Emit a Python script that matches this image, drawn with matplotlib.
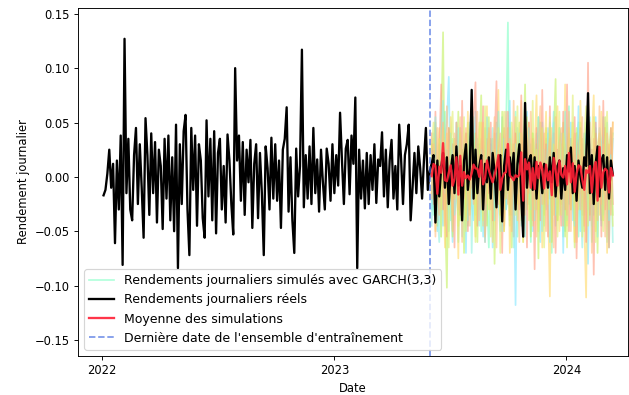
import matplotlib
matplotlib.use("Agg")
import matplotlib.pyplot as plt
import matplotlib.dates as mdates
import numpy as np
import pandas as pd

# rendements réels (un point tous les 3 jours)
rendements_train = [
    -0.017, -0.012, 0.003, 0.025, -0.010, 0.012, -0.061, 0.015, -0.030, 0.038,
    -0.081, 0.127, -0.015, 0.035, -0.030, -0.040, 0.020, 0.045, -0.025, 0.030,
    -0.010, -0.056, 0.054, 0.020, -0.035, 0.040, -0.015, 0.032, -0.042, 0.025,
    0.010, -0.048, 0.035, -0.020, 0.038, -0.040, 0.018, -0.050, 0.048, -0.084,
    0.030, -0.025, 0.042, 0.057, -0.030, -0.072, 0.045, -0.012, 0.038, -0.045,
    0.030, 0.015, -0.038, -0.056, 0.052, -0.018, 0.035, -0.040, 0.042, -0.052,
    0.022, 0.035, -0.030, 0.010, -0.042, 0.039, 0.015, -0.025, -0.053, 0.100,
    0.015, 0.038, -0.022, 0.032, -0.035, 0.025, -0.005, 0.034, -0.047, 0.012,
    0.030, -0.038, 0.022, -0.015, -0.072, 0.028, 0.008, -0.030, 0.036, -0.020,
    0.030, -0.022, 0.015, -0.047, 0.025, 0.035, 0.064, -0.032, 0.018, -0.040,
    -0.070, 0.026, -0.018, 0.010, 0.117, -0.028, 0.020, -0.020, 0.028, -0.025,
    0.045, -0.015, 0.016, -0.032, 0.025, -0.005, -0.030, 0.026, 0.012, -0.022,
    0.030, -0.015, 0.020, -0.008, 0.059, 0.015, -0.025, 0.026, 0.034, -0.016,
    0.038, 0.012, 0.073, -0.084, 0.025, -0.020, 0.015, -0.029, 0.022, -0.025,
    0.020, -0.012, 0.030, -0.024, 0.016, 0.010, 0.041, -0.018, 0.025, -0.028,
    0.015, 0.034, -0.020, 0.010, -0.030, 0.048, 0.016, -0.025, 0.020, 0.030,
    0.048, -0.040, -0.010, 0.022, -0.015, 0.028, 0.008, -0.020, 0.016, 0.045,
    -0.012, 0.005,
]
rendements_test = [
    0.012, 0.020, -0.042, 0.015, -0.018, 0.008, 0.022, -0.010, 0.018, -0.025,
    0.005, 0.020, -0.015, 0.028, -0.008, 0.010, -0.040, 0.015, 0.030, -0.012,
    0.008, 0.080, -0.020, 0.025, -0.015, 0.010, 0.020, -0.030, 0.012, -0.005,
    0.018, -0.020, 0.022, 0.005, -0.028, 0.015, 0.020, -0.041, 0.010, 0.025,
    -0.012, 0.018, 0.000, 0.022, -0.030, 0.012, 0.030, -0.018, -0.055, 0.068,
    -0.010, 0.015, 0.020, -0.012, 0.018, -0.020, 0.010, 0.005, -0.015, 0.012,
    0.008, -0.010, 0.018, -0.005, 0.022, -0.018, 0.010, 0.015, -0.020, 0.008,
    -0.012, 0.020, 0.005, 0.027, -0.015, 0.010, -0.022, 0.015, 0.000, -0.010,
    0.018, 0.010, 0.077, -0.015, 0.020, -0.025, 0.012, 0.028, -0.018, 0.015,
    0.020, -0.012, 0.018, -0.020, 0.015, 0.002,
]

# trajectoires simulées GARCH(3,3) sur la période de test
sim_0 = [
    0.020, -0.035, 0.045, -0.010, 0.030, -0.055, 0.015, 0.060, -0.025, 0.010,
    -0.040, 0.035, -0.015, 0.050, -0.060, 0.020, 0.005, -0.030, 0.040, -0.045,
    0.025, -0.010, 0.055, -0.035, 0.015, 0.030, -0.050, 0.010, 0.045, -0.020,
    -0.065, 0.035, 0.010, -0.030, 0.050, -0.015, 0.025, -0.045, 0.020, 0.040,
    0.142, -0.040, 0.015, -0.025, 0.060, -0.055, 0.030, 0.005, -0.035, 0.045,
    -0.020, 0.025, -0.060, 0.040, 0.010, -0.030, 0.055, -0.015, 0.020, -0.045,
    0.035, -0.010, 0.050, -0.070, 0.025, 0.015, -0.040, 0.045, -0.020, 0.030,
    -0.050, 0.010, 0.065, -0.030, 0.020, -0.015, 0.040, -0.055, 0.025, 0.005,
    -0.035, 0.050, -0.020, 0.030, -0.060, 0.015, 0.045, -0.025, 0.010, -0.040,
    0.055, -0.015, 0.030, -0.065, 0.020, 0.040,
]
sim_1 = [
    -0.030, 0.040, 0.015, -0.050, 0.025, -0.010, -0.045, 0.035, 0.050, 0.092,
    -0.020, -0.060, 0.030, 0.010, -0.035, 0.045, -0.015, 0.020, -0.070, 0.040,
    0.015, -0.025, -0.040, 0.060, 0.005, -0.030, 0.035, -0.055, 0.020, 0.045,
    -0.010, 0.030, -0.065, 0.015, 0.040, -0.020, -0.050, 0.055, 0.010, -0.030,
    0.025, 0.070, -0.035, 0.020, -0.118, 0.045, -0.010, 0.035, -0.040, 0.015,
    0.060, -0.025, 0.030, -0.050, 0.020, 0.040, -0.015, -0.060, 0.050, 0.005,
    -0.030, 0.045, -0.020, 0.025, 0.060, -0.045, 0.010, -0.035, 0.040, -0.070,
    0.030, 0.015, -0.025, 0.050, -0.040, 0.020, -0.010, 0.065, -0.050, 0.030,
    -0.020, 0.040, -0.080, 0.025, 0.010, -0.035, 0.055, -0.015, 0.030, -0.045,
    0.020, 0.045, -0.060, 0.015, -0.025, 0.035,
]
sim_2 = [
    0.030, -0.020, 0.050, -0.045, 0.015, 0.040, 0.133, -0.030, -0.102, 0.045,
    0.020, -0.055, 0.035, -0.010, 0.060, -0.040, 0.025, -0.070, 0.010, 0.050,
    -0.030, 0.020, -0.015, 0.040, -0.060, 0.030, 0.075, -0.025, 0.015, -0.045,
    0.055, -0.020, 0.035, -0.080, 0.020, 0.010, -0.035, 0.060, -0.050, 0.025,
    -0.015, 0.045, -0.065, 0.030, 0.010, -0.025, 0.050, -0.040, 0.020, 0.085,
    -0.030, 0.015, -0.055, 0.040, -0.010, 0.030, -0.075, 0.050, 0.005, -0.035,
    0.045, -0.020, 0.025, -0.060, 0.035, 0.090, -0.040, 0.015, -0.025, 0.050,
    -0.055, 0.020, 0.040, -0.030, 0.010, -0.065, 0.045, 0.025, -0.015, 0.035,
    -0.050, 0.020, 0.060, -0.035, 0.015, -0.020, 0.040, -0.070, 0.030, 0.010,
    -0.040, 0.055, -0.020, 0.025, 0.045, -0.035,
]
sim_3 = [
    -0.015, 0.035, -0.050, 0.020, 0.045, -0.030, 0.010, -0.065, 0.040, -0.020,
    0.055, -0.035, 0.015, 0.030, -0.075, 0.045, -0.010, 0.025, -0.040, 0.060,
    -0.025, 0.040, 0.010, -0.055, 0.030, -0.015, 0.050, -0.045, 0.020, 0.065,
    -0.030, 0.015, -0.060, 0.040, -0.020, 0.080, -0.035, 0.025, -0.050, 0.010,
    0.045, -0.070, 0.030, -0.015, 0.055, -0.040, 0.020, 0.070, -0.060, 0.035,
    -0.025, 0.050, 0.010, -0.045, 0.025, 0.075, -0.030, 0.040, -0.065, 0.015,
    0.060, -0.020, -0.110, 0.045, -0.035, 0.020, 0.065, -0.050, 0.030, -0.015,
    0.085, -0.045, 0.025, -0.030, 0.050, -0.060, 0.040, -0.020, 0.070, 0.010,
    -0.040, -0.111, 0.055, -0.025, 0.035, 0.075, -0.050, 0.020, -0.035, 0.060,
    -0.015, 0.045, -0.070, 0.030, -0.020, 0.050,
]
sim_4 = [
    0.040, -0.025, 0.060, -0.040, 0.020, 0.085, -0.030, 0.015, -0.055, 0.045,
    -0.015, 0.030, -0.065, 0.050, 0.010, -0.035, 0.070, -0.020, 0.040, -0.050,
    0.025, -0.010, 0.055, 0.087, -0.045, 0.020, -0.030, 0.065, -0.060, 0.035,
    -0.015, 0.050, -0.040, 0.030, 0.088, -0.025, 0.015, -0.070, 0.045, -0.020,
    0.060, -0.035, 0.025, -0.055, 0.040, 0.010, -0.030, 0.075, -0.045, 0.020,
    -0.065, 0.050, -0.015, 0.035, -0.085, 0.045, 0.020, -0.040, 0.080, -0.025,
    0.030, -0.055, 0.065, -0.020, 0.040, -0.070, 0.025, 0.010, -0.045, 0.060,
    -0.030, 0.085, -0.050, 0.035, -0.015, 0.055, -0.075, 0.030, 0.045, -0.035,
    0.020, -0.060, 0.105, -0.040, 0.025, -0.090, 0.050, -0.020, 0.035, -0.055,
    0.070, -0.030, 0.015, -0.065, 0.045, -0.025,
]
sim_5 = [
    -0.045, 0.020, 0.055, -0.030, -0.060, 0.035, 0.070, -0.015, 0.025, -0.050,
    0.040, 0.010, -0.035, -0.020, 0.045, 0.025, -0.055, 0.030, 0.015, -0.040,
    0.050, -0.070, 0.020, 0.010, 0.035, -0.045, 0.025, -0.015, -0.060, 0.055,
    0.030, -0.025, 0.045, -0.040, -0.010, 0.060, 0.015, -0.050, 0.035, -0.030,
    -0.020, 0.050, 0.025, -0.065, 0.030, -0.015, 0.040, -0.045, 0.020, -0.055,
    0.035, 0.045, -0.030, 0.015, -0.040, -0.020, 0.055, 0.030, -0.050, 0.025,
    -0.015, 0.040, -0.060, 0.020, 0.050, -0.035, -0.010, 0.045, 0.025, -0.055,
    0.060, -0.040, 0.015, 0.035, -0.025, -0.045, 0.030, 0.050, -0.020, -0.065,
    0.040, 0.015, -0.030, 0.055, -0.045, 0.025, 0.010, -0.055, 0.045, 0.030,
    -0.035, -0.015, 0.050, -0.040, 0.020, -0.060,
]
sim_6 = [
    0.025, 0.050, -0.040, -0.015, 0.035, -0.055, 0.045, 0.020, -0.030, -0.065,
    0.030, 0.060, -0.020, 0.015, -0.045, 0.040, -0.025, 0.055, -0.050, 0.010,
    -0.035, 0.045, 0.030, -0.060, 0.020, 0.050, -0.015, -0.040, 0.065, -0.025,
    0.040, -0.055, 0.015, 0.025, -0.030, 0.045, -0.070, 0.035, 0.060, -0.020,
    0.030, -0.045, 0.050, 0.015, -0.035, 0.065, -0.025, 0.040, -0.060, 0.020,
    0.055, -0.040, -0.020, 0.070, -0.030, 0.025, -0.050, 0.035, 0.045, -0.065,
    0.015, -0.025, 0.055, -0.045, 0.030, 0.020, -0.055, 0.060, -0.035, 0.040,
    0.025, -0.065, 0.045, -0.020, 0.075, -0.040, 0.015, -0.030, 0.050, -0.055,
    0.035, 0.065, -0.045, 0.020, -0.025, 0.055, -0.060, 0.030, 0.040, -0.015,
    -0.050, 0.030, 0.060, -0.030, 0.015, -0.045,
]
sim_7 = [
    -0.020, 0.030, -0.055, 0.045, -0.035, 0.020, 0.050, -0.045, 0.065, -0.025,
    0.015, -0.050, 0.040, 0.020, -0.030, 0.055, -0.060, 0.025, 0.045, -0.015,
    -0.045, 0.035, -0.025, 0.015, 0.060, -0.040, 0.030, 0.050, -0.055, 0.010,
    0.045, -0.030, 0.020, 0.055, -0.065, 0.025, 0.040, -0.020, -0.045, 0.060,
    -0.025, 0.035, -0.050, 0.070, -0.030, 0.015, -0.060, 0.040, 0.025, -0.035,
    0.045, -0.015, 0.060, -0.040, 0.020, -0.055, 0.030, 0.065, -0.025, 0.040,
    -0.050, 0.020, 0.035, -0.030, -0.065, 0.055, -0.020, 0.030, 0.045, -0.045,
    0.015, -0.035, 0.060, -0.050, 0.025, 0.040, -0.060, 0.020, -0.030, 0.055,
    -0.045, 0.030, -0.015, 0.050, -0.070, 0.035, 0.020, -0.040, 0.065, -0.025,
    0.030, -0.055, 0.040, 0.015, -0.035, 0.050,
]

simulations = [sim_0, sim_1, sim_2, sim_3, sim_4, sim_5, sim_6, sim_7]
couleurs = ['#7fffc4', '#80e6ff', '#c4f060', '#ffd966', '#ff9a80',
            '#90f0e0', '#e0ee70', '#ffbf80']

rendements = rendements_train + rendements_test
dates = pd.date_range('2022-01-03', periods=len(rendements), freq='3D')
date_split = dates[len(rendements_train) - 1]
dates_test = dates[len(rendements_train):]

moyenne = np.mean(np.array(simulations), axis=0)

fig = plt.figure(figsize=(7.59, 4.76), dpi=83)
ax = fig.add_axes([0.124, 0.099, 0.873, 0.881])

for i, sim in enumerate(simulations):
    label = 'Rendements journaliers simulés avec GARCH(3,3)' if i == 0 else None
    ax.plot(dates_test, sim, color=couleurs[i], alpha=0.6, lw=1.5, label=label)

ax.plot(dates, rendements, color='black', lw=2, label='Rendements journaliers réels')
ax.plot(dates_test, moyenne, color='#ff1f35', alpha=0.9, lw=2, label='Moyenne des simulations')
ax.axvline(date_split, color='royalblue', alpha=0.7, linestyle='--', lw=1.5,
           label="Dernière date de l'ensemble d'entraînement")

ax.set_xlim(pd.Timestamp('2021-11-24'), pd.Timestamp('2024-04-07'))
ax.set_ylim(-0.1647, 0.1555)
ax.xaxis.set_major_locator(mdates.YearLocator())
ax.xaxis.set_major_formatter(mdates.DateFormatter('%Y'))

ax.set_xlabel('Date')
ax.set_ylabel('Rendement journalier')
ax.legend(loc='lower left', fontsize=10.8)

fig.savefig('out.png', dpi=83)
